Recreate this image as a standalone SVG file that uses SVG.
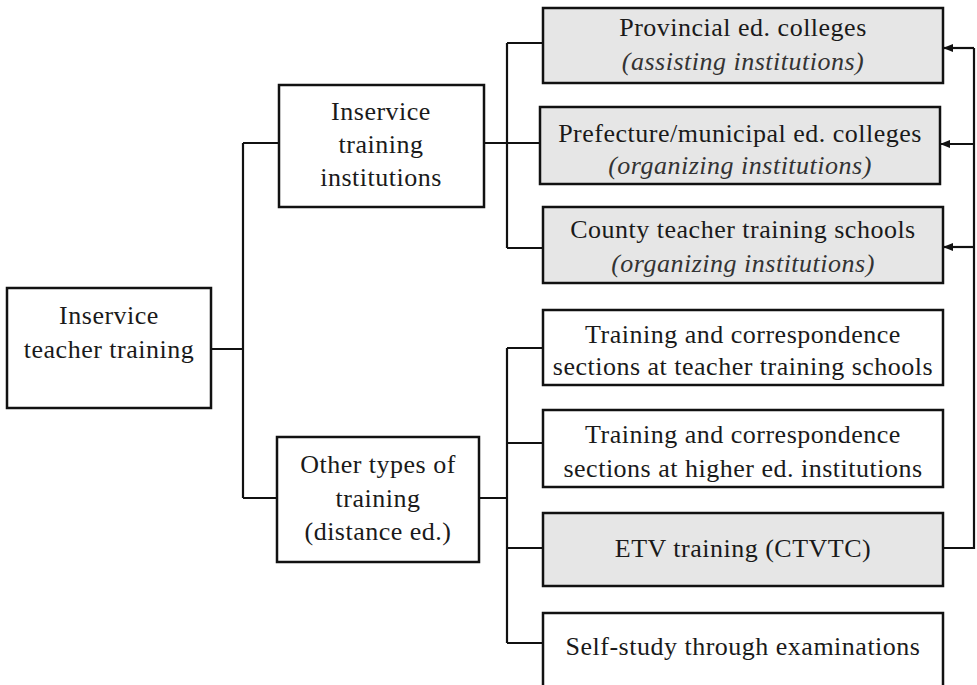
<svg xmlns="http://www.w3.org/2000/svg" width="977" height="685" viewBox="0 0 977 685">
<defs>
<style>
.box{fill:#ffffff;stroke:#111;stroke-width:2.5}
.shaded{fill:#e6e6e6}
.t{font-family:"Liberation Serif","Times New Roman",serif;font-size:26px;fill:#1a1a1a;text-anchor:middle;letter-spacing:0.5px}
.i{font-style:italic;fill:#333}
.c{fill:none;stroke:#111;stroke-width:2.2}
</style>
<marker id="ah" viewBox="0 0 10 8" refX="10" refY="4" markerWidth="10" markerHeight="8" markerUnits="userSpaceOnUse" orient="auto">
<path d="M0,0 L10,4 L0,8 Z" fill="#111"/>
</marker>
</defs>
<rect width="977" height="685" fill="#ffffff"/>
<g id="connectors">
<path class="c" d="M211,349 H243 M243,143 V498 M243,143 H279 M243,498 H277"/>
<path class="c" d="M484,143 H540 M507,43 V248 M507,43 H543 M507,248 H543"/>
<path class="c" d="M479,498 H507 M507,348 V643 M507,348 H543 M507,443 H543 M507,548 H543 M507,643 H543"/>
<path class="c" d="M943,548 H974 V48"/>
<path class="c" d="M974,48 H943" marker-end="url(#ah)"/>
<path class="c" d="M974,144 H940" marker-end="url(#ah)"/>
<path class="c" d="M974,247 H943" marker-end="url(#ah)"/>
</g>
<g id="root">
<rect class="box" x="7" y="288" width="204" height="120"/>
<text class="t" x="109" y="324">Inservice</text>
<text class="t" x="109" y="358">teacher training</text>
</g>
<g id="institutions">
<rect class="box" x="279" y="85" width="205" height="122"/>
<text class="t" x="381" y="120">Inservice</text>
<text class="t" x="381" y="153">training</text>
<text class="t" x="381" y="186">institutions</text>
</g>
<g id="other">
<rect class="box" x="277" y="437" width="202" height="125"/>
<text class="t" x="378" y="473">Other types of</text>
<text class="t" x="378" y="507">training</text>
<text class="t" x="378" y="540">(distance ed.)</text>
</g>
<g id="provincial">
<rect class="box shaded" x="543" y="8" width="400" height="75"/>
<text class="t" x="743" y="36">Provincial ed. colleges</text>
<text class="t i" x="743" y="70">(assisting institutions)</text>
</g>
<g id="prefecture">
<rect class="box shaded" x="540" y="107" width="400" height="77"/>
<text class="t" x="740" y="142">Prefecture/municipal ed. colleges</text>
<text class="t i" x="740" y="174">(organizing institutions)</text>
</g>
<g id="county">
<rect class="box shaded" x="543" y="207" width="400" height="76"/>
<text class="t" x="743" y="238">County teacher training schools</text>
<text class="t i" x="743" y="272">(organizing institutions)</text>
</g>
<g id="sections-schools">
<rect class="box" x="543" y="310" width="400" height="75"/>
<text class="t" x="743" y="343">Training and correspondence</text>
<text class="t" x="743" y="375">sections at teacher training schools</text>
</g>
<g id="sections-higher">
<rect class="box" x="543" y="410" width="400" height="77"/>
<text class="t" x="743" y="443">Training and correspondence</text>
<text class="t" x="743" y="477">sections at higher ed. institutions</text>
</g>
<g id="etv">
<rect class="box shaded" x="543" y="513" width="400" height="73"/>
<text class="t" x="743" y="557">ETV training (CTVTC)</text>
</g>
<g id="self-study">
<rect class="box" x="543" y="613" width="400" height="80"/>
<text class="t" x="743" y="655">Self-study through examinations</text>
</g>
</svg>
